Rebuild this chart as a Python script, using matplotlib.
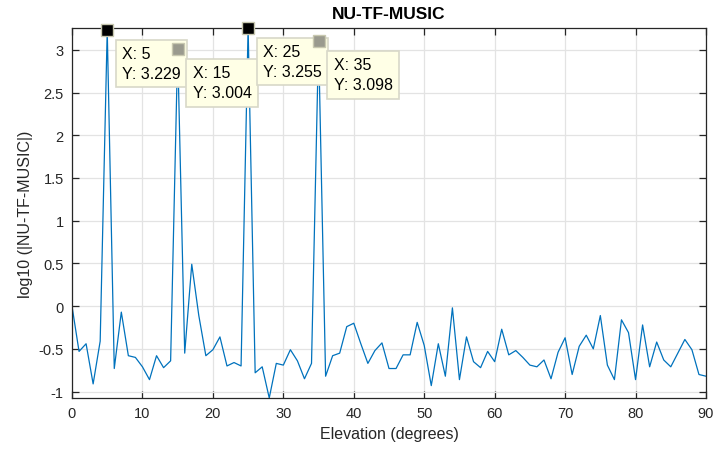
import matplotlib
matplotlib.use("Agg")
import matplotlib.pyplot as plt
import numpy as np

elevation = np.arange(0, 91)
spectrum = [
    0.00, -0.53, -0.44, -0.91, -0.41, 3.229, -0.73, -0.07, -0.58, -0.60,
    -0.71, -0.86, -0.58, -0.72, -0.64, 3.004, -0.55, 0.49, -0.11, -0.58,
    -0.51, -0.36, -0.70, -0.66, -0.70, 3.255, -0.78, -0.71, -1.075, -0.67,
    -0.69, -0.51, -0.64, -0.85, -0.67, 3.098, -0.82, -0.58, -0.55, -0.24,
    -0.20, -0.44, -0.67, -0.52, -0.43, -0.73, -0.73, -0.57, -0.57, -0.19,
    -0.46, -0.93, -0.44, -0.82, -0.02, -0.86, -0.36, -0.65, -0.72, -0.53,
    -0.65, -0.27, -0.57, -0.52, -0.60, -0.69, -0.71, -0.63, -0.85, -0.54,
    -0.37, -0.80, -0.47, -0.34, -0.50, -0.11, -0.69, -0.86, -0.16, -0.31,
    -0.86, -0.22, -0.71, -0.42, -0.63, -0.71, -0.55, -0.39, -0.51, -0.80,
    -0.82,
]
tip_x = [5, 15, 25, 35]
tip_y = [3.229, 3.004, 3.255, 3.098]
tip_color = ["black", "#9a9a8e", "black", "#9a9a8e"]

plt.rcParams["font.family"] = ["Liberation Sans", "DejaVu Sans"]

fig = plt.figure(figsize=(7.16, 4.52), dpi=100)
ax = fig.add_axes([72 / 716, 1 - 399 / 452, 634 / 716, 370 / 452])

ax.plot(elevation, spectrum, color="#0072BD", lw=0.9, zorder=2)

for x, y, c in zip(tip_x, tip_y, tip_color):
    ax.annotate("X: %d\nY: %.3f" % (x, y), xy=(x, y), xytext=(15, -16),
                textcoords="offset pixels", ha="left", va="top",
                fontsize=11.5, color="black", linespacing=1.4,
                bbox=dict(boxstyle="square,pad=0.4", fc="#ffffe6",
                          ec="#d8d8c8", lw=1.2),
                zorder=3, annotation_clip=False)
for x, y, c in zip(tip_x, tip_y, tip_color):
    ax.plot(x, y, "s", ms=9, mfc=c, mec="#c8c8b0", mew=1,
            zorder=5, clip_on=False)

ax.set_xlim(0, 90)
ax.set_ylim(min(spectrum), max(tip_y))
ax.set_xticks(np.arange(0, 91, 10))
ax.set_yticks(np.arange(-1, 3.01, 0.5))
ax.set_yticklabels(["-1", "-0.5", "0", "0.5", "1", "1.5", "2", "2.5", "3"])
ax.grid(True, color="#e3e3e3", lw=0.9)
ax.set_axisbelow(True)
ax.tick_params(direction="in", length=5, width=0.9, top=True, right=True,
               labelsize=10.5, colors="#262626", pad=6)
for s in ax.spines.values():
    s.set_color("#262626")
    s.set_linewidth(0.9)

ax.set_title("NU-TF-MUSIC", fontsize=12.5, fontweight="bold", pad=7)
ax.set_xlabel("Elevation (degrees)", fontsize=11.5, color="#262626")
ax.set_ylabel("log10 (|NU-TF-MUSIC|)", fontsize=11.5, color="#262626")

fig.savefig("out.png", dpi=100)
